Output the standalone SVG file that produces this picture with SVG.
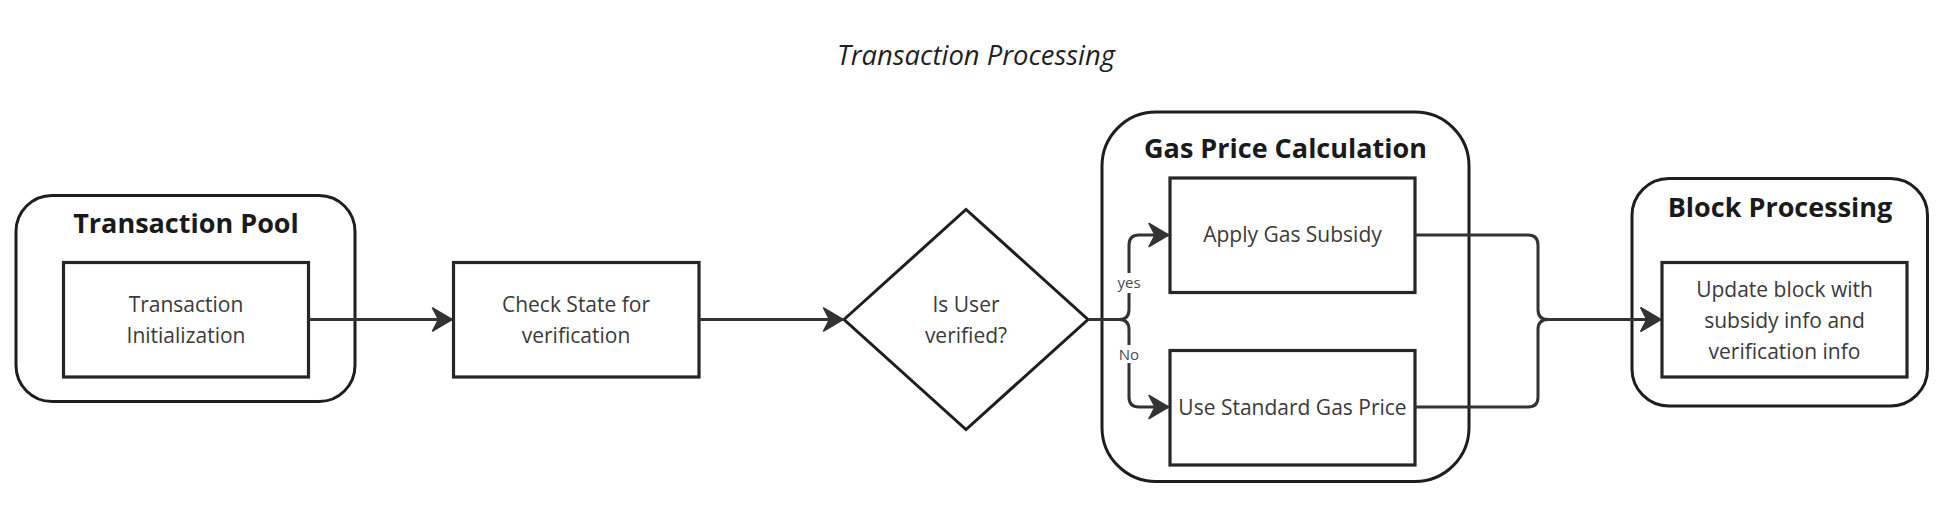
<svg xmlns="http://www.w3.org/2000/svg" width="1953" height="511" viewBox="0 0 1953 511">
  <style>
    .container { fill: #ffffff; stroke: #1e1e1e; stroke-width: 3; }
    .box { fill: #ffffff; stroke: #262626; stroke-width: 3.2; }
    .title { font-family: "Open Sans", "Noto Sans", sans-serif; font-weight: bold; font-size: 27px; fill: #1a1a1a; text-anchor: middle; }
    .body { font-family: "Open Sans", "Noto Sans", sans-serif; font-size: 21px; fill: #3a3a3a; text-anchor: middle; }
    .lbl { font-family: "Open Sans", "Noto Sans", sans-serif; font-size: 15px; fill: #4a4a4a; text-anchor: middle; }
    .conn { fill: none; stroke: #333333; stroke-width: 3; }
    .main-title { font-family: "Open Sans", "Noto Sans", sans-serif; font-style: italic; font-size: 27.4px; fill: #1f1f1f; text-anchor: middle; }
  </style>
  <defs>
    <marker id="arrow" markerUnits="userSpaceOnUse" markerWidth="26" markerHeight="28" viewBox="-22 -14 26 28" refX="0" refY="0" orient="auto">
      <path d="M0,0 L-19.5,-11.5 L-13.5,0 L-19.5,11.5 Z" fill="#333333" stroke="#333333" stroke-width="1.5" stroke-linejoin="round"/>
    </marker>
  </defs>
  <rect width="1953" height="511" fill="#ffffff"/>

  <text class="main-title" x="976" y="65">Transaction Processing</text>

  <g id="transaction-pool">
    <rect class="container" x="16" y="195.5" width="339" height="206" rx="36" ry="36"/>
    <text class="title" x="186" y="233">Transaction Pool</text>
  </g>
  <g id="transaction-init">
    <rect class="box" x="63.5" y="262.5" width="245" height="114.5"/>
    <text class="body" x="186" y="311.5">Transaction</text>
    <text class="body" x="186" y="342.5">Initialization</text>
  </g>
  <g id="check-state">
    <rect class="box" x="453.5" y="262.5" width="245.5" height="114.5"/>
    <text class="body" x="576" y="311.5">Check State for</text>
    <text class="body" x="576" y="342.5">verification</text>
  </g>
  <g id="is-user-verified">
    <polygon class="container" points="844,319.5 966,209.5 1088,319.5 966,429.5"/>
    <text class="body" x="966" y="311.5">Is User</text>
    <text class="body" x="966" y="342.5">verified?</text>
  </g>
  <g id="gas-price-calculation">
    <rect class="container" x="1102" y="112" width="367" height="369.5" rx="54" ry="54"/>
    <text class="title" x="1285.5" y="157.5">Gas Price Calculation</text>
  </g>
  <g id="apply-gas-subsidy">
    <rect class="box" x="1170" y="178" width="245" height="114.5"/>
    <text class="body" x="1292.5" y="242">Apply Gas Subsidy</text>
  </g>
  <g id="use-standard-gas-price">
    <rect class="box" x="1170" y="350.5" width="245" height="114.5"/>
    <text class="body" x="1292.5" y="414.5">Use Standard Gas Price</text>
  </g>
  <g id="block-processing">
    <rect class="container" x="1632" y="178.5" width="295.5" height="227.5" rx="37" ry="37"/>
    <text class="title" x="1780" y="217">Block Processing</text>
  </g>
  <g id="update-block">
    <rect class="box" x="1662" y="262.5" width="245" height="114.5"/>
    <text class="body" x="1784.5" y="296.5">Update block with</text>
    <text class="body" x="1784.5" y="327.5">subsidy info and</text>
    <text class="body" x="1784.5" y="358.5">verification info</text>
  </g>

  <g id="connectors">
    <path class="conn" d="M308.5,319.5 H452" marker-end="url(#arrow)"/>
    <path class="conn" d="M699,319.5 H843" marker-end="url(#arrow)"/>
    <path class="conn" d="M1088,319.5 H1119 Q1129,319.5 1129,309.5 V245 Q1129,235 1139,235 H1168.5" marker-end="url(#arrow)"/>
    <path class="conn" d="M1088,319.5 H1119 Q1129,319.5 1129,329.5 V397 Q1129,407 1139,407 H1168.5" marker-end="url(#arrow)"/>
    <path class="conn" d="M1415,235 H1528 Q1538,235 1538,245 V309.5 Q1538,319.5 1548,319.5 H1660.5" marker-end="url(#arrow)"/>
    <path class="conn" d="M1415,407 H1528 Q1538,407 1538,397 V329.5 Q1538,319.5 1548,319.5 H1660.5" marker-end="url(#arrow)"/>
    <rect x="1117" y="273" width="24" height="20" fill="#ffffff"/>
    <text class="lbl" x="1129" y="288">yes</text>
    <rect x="1117" y="345" width="24" height="18" fill="#ffffff"/>
    <text class="lbl" x="1129" y="359.5">No</text>
  </g>
</svg>
